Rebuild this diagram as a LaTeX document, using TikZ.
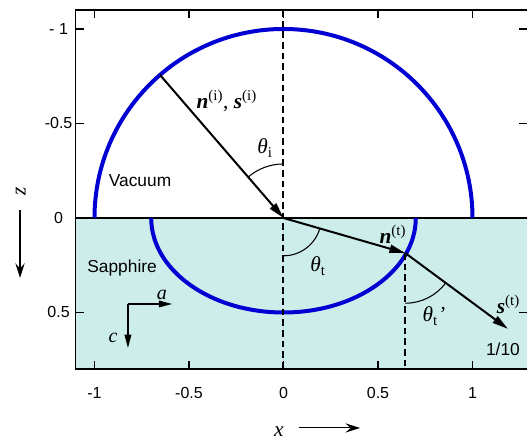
\documentclass[tikz,border=0pt]{standalone}
\usepackage{fontspec}
\setmainfont{Liberation Serif}
\setsansfont{Liberation Sans}
\usetikzlibrary{arrows.meta, positioning}
\definecolor{sapphire}{RGB}{205,237,234}
\definecolor{surfblue}{RGB}{0,0,210}

\begin{document}
\begin{tikzpicture}[x=141.75pt, y=-141.75pt,
  surf/.style={surfblue, line width=3pt},
  ray/.style={line width=1.5pt, -{Triangle[length=12pt, width=6pt]}},
  normal/.style={dash pattern=on 5pt off 3pt, line width=1.5pt},
  angarc/.style={line width=0.8pt},
  frame/.style={line width=1.1pt},
  tickmark/.style={line width=1.1pt},
  num/.style={font=\sffamily\fontsize{12}{12}\selectfont},
  medium/.style={font=\sffamily\fontsize{13}{13}\selectfont},
  lab/.style={font=\fontsize{16}{16}\selectfont},
  axarr/.style={line width=0.8pt, -{Stealth[length=11pt, width=7pt, inset=4pt]}},
  crys/.style={line width=1.1pt, -{Triangle[length=10pt, width=5pt]}}
]
\useasboundingbox (-1.5,-1.1534) rectangle (1.2884,1.1799);

% sapphire half space
\fill[sapphire] (-1.1,0) rectangle (1.2884,0.8);
\draw[line width=0.9pt] (-1.1,0) -- (1.2884,0);

% index surfaces
\draw[surf] (-1,0) arc[start angle=180, end angle=360, radius=1];
\draw[surf] (-0.7,0) arc[start angle=180, end angle=0, x radius=0.7, y radius=0.5];

\coordinate (O) at (0,0);
\coordinate (Ii) at (229.2:1);
\coordinate (P) at (0.645,0.186);
\coordinate (St) at (1.188,0.587);
\coordinate (top) at (0,-1.1);
\coordinate (bot) at (0,0.8);
\coordinate (Pbot) at (0.645,0.8);

% normals
\draw[normal] (top) -- (bot);
\draw[normal] (P) -- (Pbot);

% rays
\draw[ray] (Ii) -- (O);
\draw[ray] (O) -- (P);
\draw[ray] (P) -- (St);

% angles
\draw[angarc] (O) ++(0,-0.286) arc[start angle=-90, end angle=-130.8, radius=0.286];
\draw[angarc] (O) ++(0,0.2) arc[start angle=90, end angle=16.1, radius=0.2];
\draw[angarc] (P) ++(0,0.265) arc[start angle=90, end angle=36.4, radius=0.265];

% frame and ticks
\draw[frame] (1.2884,-1.1) -- (-1.1,-1.1) -- (-1.1,0.8) -- (1.2884,0.8);
\foreach \x in {-1,-0.5,0,0.5,1} {
  \draw[tickmark] (\x,-1.1) -- (\x,-1.058);
  \draw[tickmark] (\x,0.8) -- (\x,0.758);
}
\foreach \z in {-1,-0.5,0,0.5} {
  \draw[tickmark] (-1.1,\z) -- (-1.058,\z);
  \draw[tickmark] (1.2884,\z) -- (1.2464,\z);
}

% tick labels
\node[num] (zm1) at (-1.19,-1) {- 1};
\node[num] (zm05) at (-1.19,-0.5) {-0.5};
\node[num] (z0) at (-1.19,0) {0};
\node[num] (z05) at (-1.19,0.5) {0.5};
\node[num] (xm1) at (-1,0.926) {-1};
\node[num] (xm05) at (-0.5,0.926) {-0.5};
\node[num] (x0) at (0,0.926) {0};
\node[num] (x05) at (0.5,0.926) {0.5};
\node[num] (x1) at (1,0.926) {1};

% axis titles
\node[lab, font=\itshape\fontsize{16}{16}\selectfont] (xlab) at (-0.024,1.128) {x};
\coordinate (xa) at (0.082,1.111);
\coordinate (xb) at (0.405,1.111);
\draw[axarr] (xa) -- (xb);
\node[lab, font=\itshape\fontsize{16}{16}\selectfont, rotate=90] (zlab) at (-1.39,-0.14) {z};
\coordinate (za) at (-1.394,-0.042);
\coordinate (zb) at (-1.394,0.317);
\draw[axarr] (za) -- (zb);

% media
\node[medium] (vac) at (-0.759,-0.196) {Vacuum};
\node[medium] (sap) at (-0.854,0.265) {Sapphire};

% labels
\node[lab] (ni) at (-0.3,-0.619) {\textbf{\textit{n}}\textsuperscript{(i)}, \textbf{\textit{s}}\textsuperscript{(i)}};
\node[lab] (thi) at (-0.098,-0.37) {\textit{θ}\textsubscript{i}};
\node[lab] (tht) at (0.183,0.254) {\textit{θ}\textsubscript{t}};
\node[lab] (nt) at (0.579,0.088) {\textbf{\textit{n}}\textsuperscript{(t)}};
\node[lab] (thtp) at (0.796,0.518) {\textit{θ}\textsubscript{t}\textit{'}};
\node[lab] (st) at (1.19,0.458) {\textbf{\textit{s}}\textsuperscript{(t)}};
\node[medium] (scale) at (1.161,0.693) {1/10};

% crystal axes
\coordinate (corner) at (-0.823,0.455);
\coordinate (aend) at (-0.589,0.455);
\coordinate (cend) at (-0.823,0.688);
\draw[crys] (corner) -- (aend);
\draw[crys] (corner) -- (cend);
\node[lab, font=\itshape\fontsize{15}{15}\selectfont] (alab) at (-0.643,0.405) {a};
\node[lab, font=\itshape\fontsize{15}{15}\selectfont] (clab) at (-0.902,0.632) {c};
\end{tikzpicture}
\end{document}
